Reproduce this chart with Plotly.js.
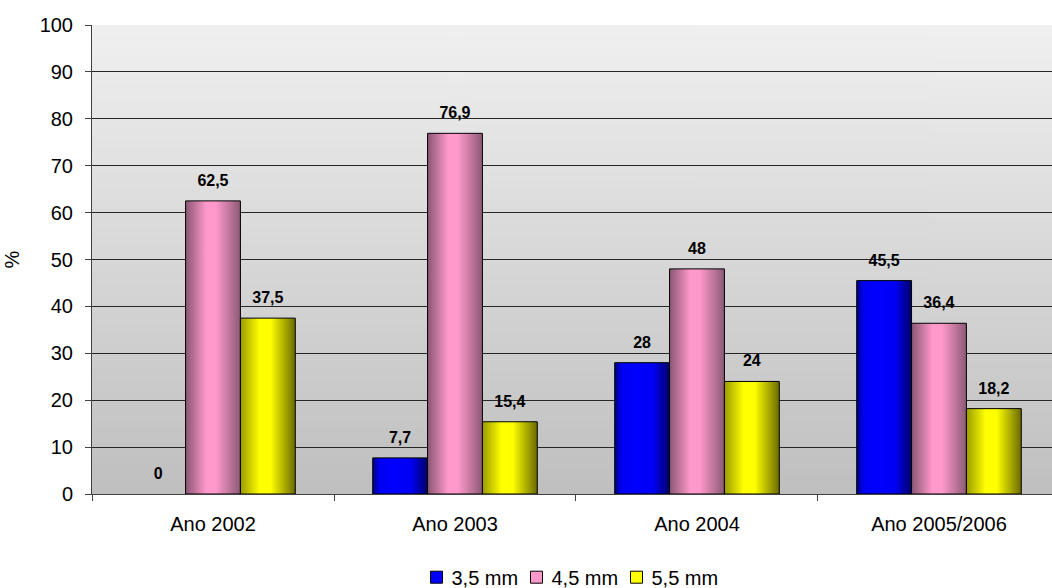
<!DOCTYPE html>
<html>
<head>
<meta charset="utf-8">
<script src="https://cdn.plot.ly/plotly-3.0.1.min.js"></script>
<style>
html, body { margin: 0; padding: 0; background: #ffffff; overflow: hidden; }
#chart { width: 1052px; height: 588px; }
</style>
</head>
<body>
<div id="chart"></div>
<script>
// ---- Data ----
const categories = ['Ano 2002', 'Ano 2003', 'Ano 2004', 'Ano 2005/2006'];
const seriesNames = ['3,5 mm', '4,5 mm', '5,5 mm'];
const values35 = [0, 7.7, 28, 45.5];
const values45 = [62.5, 76.9, 48, 36.4];
const values55 = [37.5, 15.4, 24, 18.2];
const yTickValues = [0, 10, 20, 30, 40, 50, 60, 70, 80, 90, 100];

// ---- Styles ----
const seriesColors = ['#0000ff', '#ff99cc', '#ffff00'];
const gradients = [
  [[0, '#00007a'], [0.12, '#0000f0'], [0.35, '#0000ff'], [0.7, '#0000f5'], [1, '#000066']],
  [[0, '#8a5672'], [0.38, '#ff99cc'], [0.55, '#ff99cc'], [1, '#8c5a76']],
  [[0, '#9a9a00'], [0.35, '#ffff00'], [0.55, '#ffff00'], [1, '#6a6a00']]
];
const FONT = 'Arial, "Liberation Sans", sans-serif';

function fmt(v) { return String(v).replace('.', ','); }

// background gradient image
const cv = document.createElement('canvas');
cv.width = 4; cv.height = 256;
const ctx = cv.getContext('2d');
const g = ctx.createLinearGradient(0, 0, 0, 256);
g.addColorStop(0, '#f0f0f0');
g.addColorStop(1, '#bfbfbf');
ctx.fillStyle = g;
ctx.fillRect(0, 0, 4, 256);
const bgSrc = cv.toDataURL('image/png');

const allValues = [values35, values45, values55];
const traces = allValues.map((vals, i) => ({
  type: 'bar',
  name: seriesNames[i],
  x: categories,
  y: vals,
  text: vals.map(fmt),
  textposition: 'outside',
  cliponaxis: false,
  textfont: { family: FONT, size: 16, color: '#000000', weight: 'bold' },
  marker: {
    color: seriesColors[i],
    line: { color: '#000000', width: vals.map(v => (v === 0 ? 0 : 1)) }
  },
  hoverinfo: 'none'
}));

const layout = {
  width: 1052,
  height: 588,
  margin: { l: 92, r: 0, t: 25, b: 94, autoexpand: false },
  paper_bgcolor: '#ffffff',
  plot_bgcolor: 'rgba(0,0,0,0)',
  font: { family: FONT, size: 20, color: '#000000' },
  barmode: 'group',
  bargap: 0.32,
  bargroupgap: 0,
  showlegend: true,
  legend: {
    orientation: 'h',
    x: 0.33, xanchor: 'left',
    y: -0.195, yanchor: 'bottom',
    bgcolor: 'rgba(255,255,255,0)',
    font: { family: FONT, size: 20, color: '#000000' },
    itemwidth: 30,
    traceorder: 'normal'
  },
  xaxis: {
    type: 'category',
    range: [-0.5, 3.467],
    showgrid: false,
    showline: true,
    linecolor: '#404040',
    linewidth: 1,
    ticks: 'outside',
    tickson: 'boundaries',
    ticklen: 6,
    tickcolor: '#404040',
    ticklabelstandoff: 12,
    tickfont: { family: FONT, size: 20, color: '#000000' },
    zeroline: false
  },
  yaxis: {
    range: [0, 100],
    tickvals: yTickValues,
    ticktext: yTickValues.map(String),
    showgrid: true,
    gridcolor: '#262626',
    gridwidth: 1,
    showline: true,
    linecolor: '#404040',
    linewidth: 1,
    ticks: 'outside',
    ticklen: 6,
    tickcolor: '#404040',
    ticklabelstandoff: 8,
    tickfont: { family: FONT, size: 20, color: '#000000' },
    zeroline: false,
    title: { text: '%', font: { family: FONT, size: 20, color: '#000000' }, standoff: 14 }
  },
  images: [{
    source: bgSrc,
    xref: 'paper', yref: 'paper',
    x: 0, y: 1, sizex: 1, sizey: 1,
    xanchor: 'left', yanchor: 'top',
    sizing: 'stretch',
    layer: 'below'
  }]
};

function parseTranslate(s) {
  const m = /translate\(\s*([-\d.e]+)[ ,]+([-\d.e]+)\s*\)/.exec(s || '');
  return m ? [parseFloat(m[1]), parseFloat(m[2])] : [0, 0];
}

Plotly.newPlot('chart', traces, layout, { staticPlot: true, displayModeBar: false }).then(gd => {
  const svgNS = 'http://www.w3.org/2000/svg';
  const svg = gd.querySelector('.main-svg');
  let defs = svg.querySelector('defs');
  if (!defs) { defs = document.createElementNS(svgNS, 'defs'); svg.insertBefore(defs, svg.firstChild); }
  gradients.forEach((stops, i) => {
    const lg = document.createElementNS(svgNS, 'linearGradient');
    lg.setAttribute('id', 'barGrad' + i);
    lg.setAttribute('x1', '0'); lg.setAttribute('y1', '0');
    lg.setAttribute('x2', '1'); lg.setAttribute('y2', '0');
    stops.forEach(s => {
      const st = document.createElementNS(svgNS, 'stop');
      st.setAttribute('offset', s[0]);
      st.setAttribute('stop-color', s[1]);
      lg.appendChild(st);
    });
    defs.appendChild(lg);
  });
  const barTraces = gd.querySelectorAll('.barlayer .trace.bars');
  barTraces.forEach((tr, i) => {
    tr.querySelectorAll('.point path').forEach(p => { p.style.fill = 'url(#barGrad' + i + ')'; });
    tr.querySelectorAll('.point text').forEach(t => {
      const tf = t.getAttribute('transform') || '';
      t.setAttribute('transform', 'translate(0,-9) ' + tf);
    });
  });

  // tighten legend spacing like the reference
  const leg = gd.querySelector('.legend');
  if (leg) {
    const items = leg.querySelectorAll('.traces');
    if (items.length) {
      const [x0] = parseTranslate(items[0].getAttribute('transform'));
      items.forEach((it, i) => {
        const [, yi] = parseTranslate(it.getAttribute('transform'));
        it.setAttribute('transform', 'translate(' + (x0 + i * 100) + ',' + yi + ')');
        const t = it.querySelector('text.legendtext');
        if (t) t.setAttribute('x', 35);
        it.querySelectorAll('.legendpoints path').forEach(p => {
          p.style.stroke = '#000000';
          p.style.strokeWidth = '1px';
        });
      });
      const sw = items[0].querySelector('.legendpoints path');
      const txt = items[0].querySelector('text.legendtext');
      if (sw) {
        const r = sw.getBoundingClientRect();
        const cx = r.left + r.width / 2;
        let cy = r.top + r.height / 2;
        if (txt) { const tr = txt.getBoundingClientRect(); cy = tr.top + tr.height / 2; }
        const [lx, ly] = parseTranslate(leg.getAttribute('transform'));
        leg.setAttribute('transform', 'translate(' + (lx + 436.5 - cx) + ',' + (ly + 578 - cy) + ')');
      }
    }
  }
});
</script>
</body>
</html>
